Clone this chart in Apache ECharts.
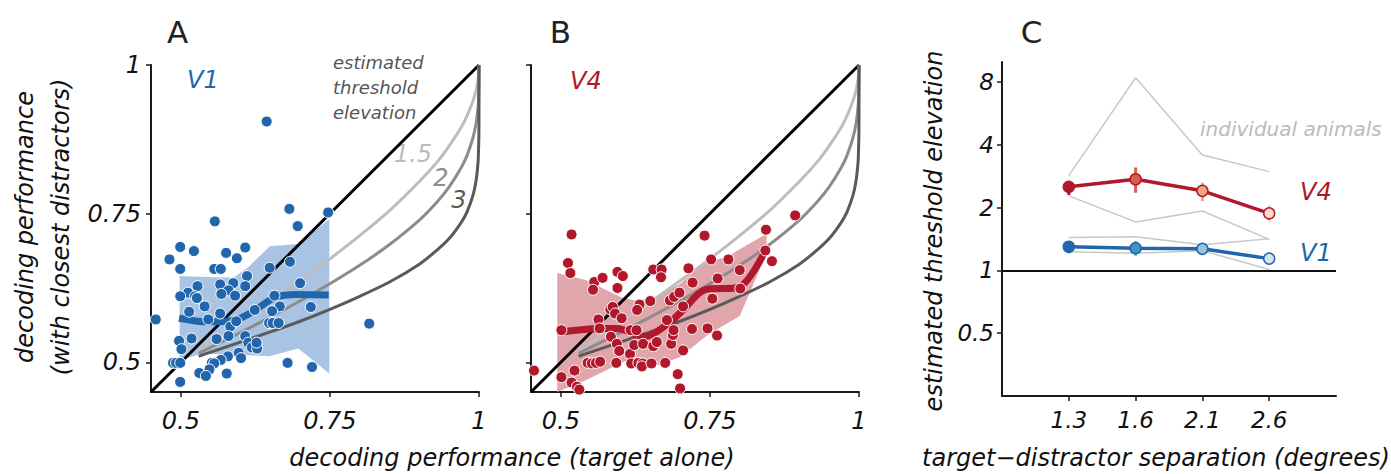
<!DOCTYPE html>
<html><head><meta charset="utf-8">
<script src="https://cdn.jsdelivr.net/npm/echarts@6/dist/echarts.min.js"></script>
<style>html,body{margin:0;padding:0;background:#fff}#c{width:1391px;height:474px}</style>
</head><body><div id="c"></div>
<script>
const FONT = 'DejaVu Sans';
// ---------- Panels A & B ----------
const perfTicks = [0.5, 0.75, 1];
const v1Points = [
 [0.458,0.572],[0.644,0.905],[0.557,0.737],[0.682,0.758],[0.747,0.752],[0.696,0.729],
 [0.499,0.694],[0.522,0.687],[0.608,0.693],[0.576,0.684],[0.481,0.673],[0.594,0.675],
 [0.499,0.657],[0.556,0.657],[0.567,0.657],[0.649,0.659],[0.683,0.669],[0.611,0.645],
 [0.700,0.633],[0.528,0.628],[0.566,0.631],[0.588,0.633],[0.608,0.628],[0.580,0.621],
 [0.512,0.617],[0.568,0.615],[0.499,0.611],[0.524,0.611],[0.527,0.608],[0.591,0.612],[0.657,0.612],
 [0.540,0.594],[0.666,0.594],[0.718,0.593],[0.514,0.585],[0.566,0.582],[0.653,0.586],
 [0.648,0.566],[0.654,0.566],[0.664,0.566],[0.583,0.560],[0.593,0.569],[0.546,0.572],[0.624,0.588],
 [0.816,0.565],[0.497,0.536],[0.518,0.540],[0.560,0.539],[0.580,0.544],[0.608,0.544],
 [0.613,0.533],[0.619,0.525],[0.628,0.523],[0.627,0.533],[0.501,0.522],[0.597,0.516],
 [0.579,0.510],[0.601,0.507],[0.567,0.504],[0.552,0.499],[0.556,0.498],[0.487,0.499],[0.492,0.499],[0.499,0.499],
 [0.679,0.499],[0.548,0.488],[0.531,0.482],[0.542,0.477],[0.577,0.481],[0.720,0.492],[0.499,0.467]
];
const v4Points = [
 [0.455,0.486],[0.518,0.715],[0.512,0.667],[0.516,0.650],[0.501,0.554],[0.501,0.475],
 [0.518,0.466],[0.527,0.459],[0.531,0.454],[0.523,0.486],[0.556,0.635],[0.570,0.642],
 [0.554,0.622],[0.595,0.652],[0.604,0.645],[0.595,0.625],[0.583,0.589],[0.587,0.593],
 [0.591,0.582],[0.602,0.574],[0.563,0.572],[0.565,0.557],[0.584,0.543],
 [0.545,0.499],[0.552,0.498],[0.559,0.499],[0.566,0.501],[0.593,0.499],[0.594,0.531],[0.598,0.519],
 [0.616,0.514],[0.618,0.498],[0.630,0.499],[0.623,0.529],[0.617,0.554],[0.627,0.554],
 [0.632,0.597],[0.628,0.588],[0.637,0.498],[0.636,0.493],[0.638,0.531],[0.650,0.603],
 [0.652,0.498],[0.655,0.527],[0.661,0.534],[0.655,0.656],[0.669,0.656],[0.668,0.643],
 [0.675,0.499],[0.685,0.531],[0.688,0.546],[0.689,0.554],[0.678,0.571],[0.683,0.604],
 [0.690,0.610],[0.699,0.617],[0.705,0.594],[0.705,0.520],[0.696,0.480],[0.700,0.456],
 [0.714,0.658],[0.721,0.634],[0.720,0.556],[0.741,0.713],[0.752,0.673],[0.746,0.557],
 [0.754,0.607],[0.762,0.545],[0.781,0.673],[0.800,0.655],[0.763,0.641],[0.801,0.624],
 [0.844,0.723],[0.893,0.747],[0.854,0.670],[0.843,0.688]
];
const v1MeanX = [0.497, 0.543, 0.591, 0.622, 0.658, 0.694, 0.748];
const v1MeanY = [0.574, 0.568, 0.571, 0.586, 0.609, 0.614, 0.613];
const v1BandX  = [0.498, 0.533, 0.588, 0.613, 0.649, 0.697, 0.749];
const v1BandUp = [0.645, 0.644, 0.642, 0.660, 0.695, 0.699, 0.741];
const v1BandLo = [0.503, 0.514, 0.513, 0.512, 0.510, 0.523, 0.481];
const v4MeanX = [0.499, 0.566, 0.594, 0.641, 0.680, 0.705, 0.742, 0.798, 0.843];
const v4MeanY = [0.551, 0.557, 0.557, 0.543, 0.565, 0.588, 0.622, 0.626, 0.688];
const v4BandX  = [0.494, 0.543, 0.599, 0.624, 0.655, 0.700, 0.745, 0.778, 0.800, 0.845];
const v4BandUp = [0.650, 0.638, 0.610, 0.604, 0.607, 0.632, 0.669, 0.677, 0.690, 0.716];
const v4BandLo = [0.450, 0.470, 0.498, 0.509, 0.492, 0.509, 0.545, 0.565, 0.578, 0.683];
const curveX  = [0.53,0.55,0.6,0.65,0.7,0.75,0.8,0.85,0.9,0.93,0.95,0.97,0.98,0.99,0.995,0.998,0.999,0.9999,1];
const curve15 = [0.520,0.533,0.567,0.601,0.637,0.674,0.713,0.755,0.804,0.837,0.864,0.895,0.915,0.940,0.957,0.973,0.980,0.993,1];
const curve2  = [0.515,0.525,0.550,0.576,0.603,0.632,0.663,0.698,0.739,0.770,0.795,0.827,0.848,0.878,0.901,0.925,0.939,0.969,1];
const curve3  = [0.510,0.517,0.534,0.551,0.569,0.589,0.611,0.635,0.665,0.689,0.708,0.735,0.753,0.781,0.805,0.831,0.849,0.892,1];
const diagonal = [[0.45,0.45],[1,1]];
// ---------- Panel C ----------
const sepLabels = ['1.3','1.6','2.1','2.6'];
const v4Mean = [2.52, 2.74, 2.41, 1.88];
const v4Lo   = [2.30, 2.36, 2.15, 1.71];
const v4Hi   = [2.69, 3.12, 2.64, 2.06];
const v1Mean = [1.30, 1.28, 1.27, 1.14];
const v1Lo   = [1.21, 1.18, 1.23, 1.07];
const v1Hi   = [1.355, 1.38, 1.32, 1.23];
const animalV4a = [2.85, 8.4, 3.58, 2.98];
const animalV4b = [2.28, 1.71, 1.93, 1.41];
const animalV1a = [1.44, 1.45, 1.33, 1.42];
const animalV1b = [1.23, 1.21, 1.245, 1.01];
const elevTicks = [0.5, 1, 2, 4, 8];

const BLUE = '#2166ac', RED = '#b2182b';
const v4Colors = ['#b2182b','#d6604d','#f4a582','#fddbc7'];
const v1Colors = ['#2166ac','#4393c3','#92c5de','#d1e5f0'];
const AX = '#1a1a1a';

function zip(xs, ys){ return xs.map((x,i)=>[x, ys[i]]); }

function perfAxis(idx, showLabel, isY){
  return {
    type:'value', gridIndex: idx, min:0.45, max:1,
    axisLine:{show:true, onZero:false, lineStyle:{color:AX, width:2}},
    axisTick:{show:true, customValues: perfTicks, length:5, lineStyle:{color:AX, width:1.5}},
    axisLabel:{show: showLabel, customValues: perfTicks, margin: isY ? 10 : 17,
      fontFamily: FONT, fontStyle:'italic', fontSize:24, color:'#111'},
    splitLine:{show:false}
  };
}
function bandSeries(idx, bx, up, lo, color){
  return {
    type:'custom', xAxisIndex: idx, yAxisIndex: idx, z:1, silent:true, clip:true,
    data:[[bx[0], lo[0]]],
    renderItem(params, api){
      const pts = [];
      for (let i=0;i<bx.length;i++) pts.push(api.coord([bx[i], up[i]]));
      for (let i=bx.length-1;i>=0;i--) pts.push(api.coord([bx[i], lo[i]]));
      return {type:'polygon', shape:{points: pts}, style:{fill: color}};
    }
  };
}
function lineS(idx, data, color, width, z, smooth){
  return {type:'line', xAxisIndex: idx, yAxisIndex: idx, data, symbol:'none', smooth: smooth||false,
    z, silent:true, lineStyle:{color, width}};
}
function panelSeries(idx, pts, mx, my, bx, bu, bl, color, bandColor){
  return [
    bandSeries(idx, bx, bu, bl, bandColor),
    lineS(idx, diagonal, '#000', 3, 2),
    lineS(idx, zip(curveX, curve15), '#bdbdbd', 3, 2, 0.3),
    lineS(idx, zip(curveX, curve2), '#8c8c8c', 3, 2, 0.3),
    lineS(idx, zip(curveX, curve3), '#5a5a5a', 3, 2, 0.3),
    lineS(idx, zip(mx, my), color, 7, 3, 0.3),
    {type:'scatter', xAxisIndex: idx, yAxisIndex: idx, data: pts, symbol:'circle', symbolSize:11, z:4,
      itemStyle:{color, borderColor:'#fff', borderWidth:1, opacity:1}}
  ];
}
function errSeries(lo, hi, colors){
  return {type:'custom', xAxisIndex:2, yAxisIndex:2, z:3, silent:true,
    data: sepLabels.map((c,i)=>[i+1, lo[i], hi[i], i]),
    encode:{x:0, y:[1,2]},
    renderItem(params, api){
      const x = api.value(0);
      const a = api.coord([x, api.value(1)]), b = api.coord([x, api.value(2)]);
      return {type:'line', shape:{x1:a[0], y1:a[1], x2:b[0], y2:b[1]},
        style:{stroke: colors[api.value(3)], lineWidth:3}};
    }};
}
function meanSeries(vals, colors, color){
  return {type:'line', xAxisIndex:2, yAxisIndex:2, z:4, silent:true,
    data: sepLabels.map((c,i)=>({value:[i+1, vals[i]], itemStyle:{color: colors[i]}})),
    symbol:'circle', symbolSize:11, showAllSymbol:true,
    itemStyle:{color, borderColor: color, borderWidth:1.5},
    lineStyle:{color, width:3.5}};
}
function grayS(vals, extra){
  return Object.assign({type:'line', xAxisIndex:2, yAxisIndex:2, z:1, silent:true, symbol:'none',
    data: sepLabels.map((c,i)=>[i+1, vals[i]]), lineStyle:{color:'#c8c8c8', width:1.5}}, extra||{});
}
function txt(x, y, text, o){
  o = o || {};
  return {type:'text', x, y, rotation: o.rot || 0, silent:true,
    style:{text, fontFamily: FONT, fontSize: o.size || 24, fontStyle: o.italic === false ? 'normal' : 'italic',
      fill: o.color || '#111', align: o.align || 'center', verticalAlign: o.va || 'middle',
      textAlign: o.align || 'center', textVerticalAlign: o.va || 'middle', lineHeight: o.lh}};
}

const option = {
  animation:false,
  backgroundColor:'#fff',
  grid:[
    {left:151, top:65, width:328, height:327},
    {left:531, top:65, width:328, height:327},
    {left:1002, top:62, width:334, height:334}
  ],
  xAxis:[
    perfAxis(0, true, false),
    perfAxis(1, true, false),
    {type:'value', gridIndex:2, min:0, max:5,
      axisLine:{show:true, onZero:false, lineStyle:{color:AX, width:2}},
      axisTick:{show:true, customValues:[1,2,3,4], length:5, lineStyle:{color:AX, width:1.5}},
      axisLabel:{customValues:[1,2,3,4], margin:12, formatter: v => sepLabels[Math.round(v)-1] || '',
        fontFamily: FONT, fontStyle:'italic', fontSize:23, color:'#111'},
      splitLine:{show:false}}
  ],
  yAxis:[
    perfAxis(0, true, true),
    perfAxis(1, false, true),
    {type:'log', logBase:2, gridIndex:2, min:0.25, max:10,
      axisLine:{show:true, onZero:false, lineStyle:{color:AX, width:2}},
      axisTick:{show:true, customValues: elevTicks, length:5, lineStyle:{color:AX, width:1.5}},
      axisLabel:{customValues: elevTicks, margin:8, formatter: v => String(+(+v).toFixed(3)),
        fontFamily: FONT, fontStyle:'italic', fontSize:23, color:'#111'},
      splitLine:{show:false}, minorTick:{show:false}}
  ],
  series:[
    ...panelSeries(0, v1Points, v1MeanX, v1MeanY, v1BandX, v1BandUp, v1BandLo, BLUE, '#a8c4e2'),
    ...panelSeries(1, v4Points, v4MeanX, v4MeanY, v4BandX, v4BandUp, v4BandLo, RED, '#e0a6ac'),
    grayS(animalV4a, {markLine:{silent:true, symbol:'none', label:{show:false},
      lineStyle:{color:'#111', width:2, type:'solid'}, data:[{yAxis:1}]}}),
    grayS(animalV4b), grayS(animalV1a), grayS(animalV1b),
    errSeries(v4Lo, v4Hi, v4Colors),
    errSeries(v1Lo, v1Hi, v1Colors),
    meanSeries(v4Mean, v4Colors, RED),
    meanSeries(v1Mean, v1Colors, BLUE)
  ],
  graphic:[
    txt(177.5, 31.5, 'A', {size:31, italic:false, color:'#222'}),
    txt(560.5, 31.5, 'B', {size:31, italic:false, color:'#222'}),
    txt(1031.5, 31.5, 'C', {size:31, italic:false, color:'#222'}),
    txt(187, 80, 'V1', {align:'left', color:BLUE}),
    txt(570, 81, 'V4', {align:'left', color:RED}),
    txt(333, 49.5, 'estimated\nthreshold\nelevation', {align:'left', va:'top', size:18, color:'#555', lh:25}),
    txt(413, 154, '1.5', {color:'#bdbdbd'}),
    txt(441, 178, '2', {color:'#8c8c8c'}),
    txt(459, 200, '3', {color:'#5a5a5a'}),
    txt(43, 227, 'decoding performance\n(with closest distractors)', {rot: Math.PI/2, lh:36}),
    txt(512, 458, 'decoding performance (target alone)', {}),
    txt(934, 231, 'estimated threshold elevation', {rot: Math.PI/2}),
    txt(1156, 458, 'target\u2212distractor separation (degrees)', {}),
    txt(1200, 129, 'individual animals', {align:'left', size:20, color:'#bbbbbb'}),
    txt(1300, 192, 'V4', {align:'left', color:RED}),
    txt(1300, 253, 'V1', {align:'left', color:BLUE})
  ]
};
const chart = echarts.init(document.getElementById('c'), null, {renderer:'svg'});
chart.setOption(option);
</script>
</body></html>
